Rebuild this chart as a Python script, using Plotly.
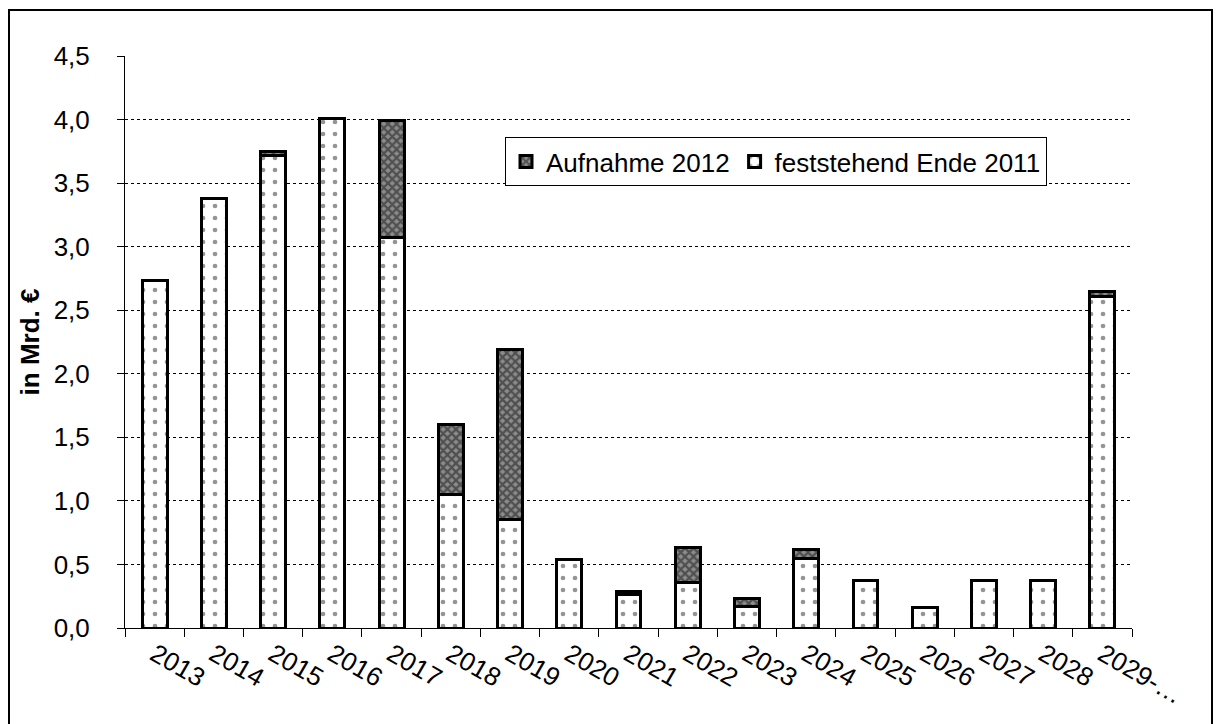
import plotly.graph_objects as go

years = ["2013", "2014", "2015", "2016", "2017", "2018", "2019", "2020", "2021",
         "2022", "2023", "2024", "2025", "2026", "2027", "2028", "2029-…"]
feststehend = [2.73, 3.38, 3.72, 4.01, 3.07, 1.05, 0.85, 0.54, 0.26,
               0.36, 0.17, 0.55, 0.37, 0.16, 0.37, 0.37, 2.61]
aufnahme = [0.0, 0.0, 0.03, 0.0, 0.92, 0.55, 1.34, 0.0, 0.03,
            0.27, 0.06, 0.07, 0.0, 0.0, 0.0, 0.0, 0.04]
y_ticks = [0, 0.5, 1.0, 1.5, 2.0, 2.5, 3.0, 3.5, 4.0, 4.5]
y_tick_text = ["0,0", "0,5", "1,0", "1,5", "2,0", "2,5", "3,0", "3,5", "4,0", "4,5"]

fig = go.Figure()
fig.add_trace(go.Bar(
    x=years, y=feststehend, name="feststehend Ende 2011",
    marker=dict(color="white", line=dict(color="black", width=3),
                pattern=dict(shape=".", fgcolor="#2a2a2a", bgcolor="white",
                             size=12, solidity=0.12)),
))
fig.add_trace(go.Bar(
    x=years, y=aufnahme, name="Aufnahme 2012",
    marker=dict(color="#444444", line=dict(color="black", width=3),
                pattern=dict(shape="x", fgcolor="#111111", bgcolor="#8c8c8c",
                             size=6, solidity=0.6)),
))

L, R, T, B = 125, 88, 56, 96
W, H = 1220, 724
pw, ph = W - L - R, H - T - B

def px(x):
    return (x - L) / pw

def py(y):
    return (H - B - y) / ph

fig.add_shape(type="rect", xref="paper", yref="paper",
              x0=px(9), x1=px(1212), y0=py(740), y1=py(10),
              line=dict(color="black", width=2), layer="below")

fig.update_layout(
    width=W, height=H,
    margin=dict(l=L, r=R, t=T, b=B),
    barmode="stack", bargap=0.58,
    plot_bgcolor="white", paper_bgcolor="white",
    font=dict(family="Liberation Sans, Arial, sans-serif", color="black", size=26),
    showlegend=True,
    legend=dict(orientation="h", traceorder="reversed",
                x=px(505), y=py(137), xanchor="left", yanchor="top",
                bordercolor="black", borderwidth=1, bgcolor="white",
                font=dict(size=26), itemwidth=30,
                tracegroupgap=0),
    xaxis=dict(type="category", tickangle=30, showline=True, linecolor="black",
               linewidth=1, ticks="outside", ticklen=8, tickcolor="black",
               tickson="boundaries", tickfont=dict(size=26), showgrid=False),
    yaxis=dict(range=[0, 4.5], tickvals=y_ticks, ticktext=y_tick_text,
               showline=True, linecolor="black", linewidth=1,
               ticks="outside", ticklen=7, tickcolor="black",
               tickfont=dict(size=26), ticklabelstandoff=22,
               showgrid=True, gridcolor="black", gridwidth=1, griddash="dot",
               zeroline=False,
               title=dict(text="<b>in Mrd. €</b>", font=dict(size=26), standoff=6)),
)

fig.write_html("out.html")
